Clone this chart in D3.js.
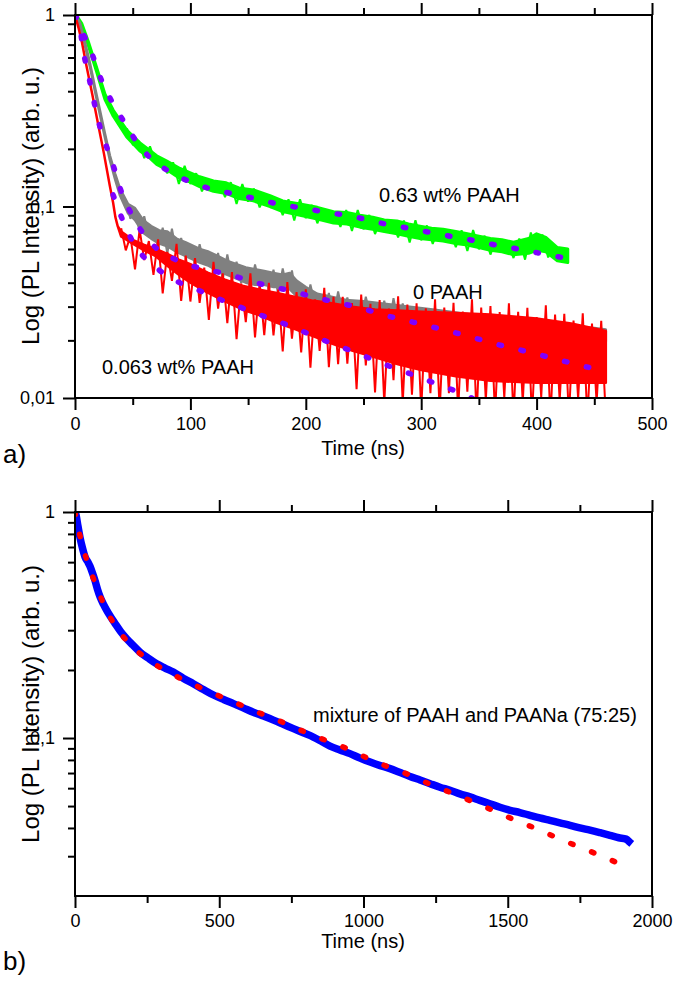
<!DOCTYPE html>
<html>
<head>
<meta charset="utf-8">
<script src="https://cdn.jsdelivr.net/npm/d3@7"></script>
<style>
  body { margin: 0; background: #fff; }
  svg { display: block; }
  text { font-family: "Liberation Sans", Arial, sans-serif; fill: #000; }
</style>
</head>
<body>
<svg id="chart" width="675" height="991"></svg>
<script>
// ---- panel a: tick values
var xTicksA = [0, 100, 200, 300, 400, 500];
var xMinorA = [50, 150, 250, 350, 450];
var yTicksA = [1, 0.1, 0.01];
var yMinorA = [0.02, 0.03, 0.04, 0.05, 0.06, 0.07, 0.08, 0.09, 0.2, 0.3, 0.4, 0.5, 0.6, 0.7, 0.8, 0.9];

// ---- panel b: tick values
var xTicksB = [0, 500, 1000, 1500, 2000];
var xMinorB = [250, 750, 1250, 1750];
var yTicksB = [1, 0.1];
var yMinorB = [0.03, 0.04, 0.05, 0.06, 0.07, 0.08, 0.09, 0.2, 0.3, 0.4, 0.5, 0.6, 0.7, 0.8, 0.9];

// ---- 0.63 wt% PAAH (green): band + noise trace
var greenT  = [0, 1, 5.8, 11.5, 18.8, 26, 33.2, 44.8, 56.3, 64, 70.8, 80, 91, 100, 108, 120, 131, 142, 154.5, 169, 180, 195, 210, 224, 235.5, 247, 258, 268, 279, 289, 299, 309, 319, 330, 340, 350, 360, 370, 380, 393, 400, 408, 418, 427];
var greenLo = [1, 0.99, 0.87, 0.695, 0.503, 0.362, 0.296, 0.231, 0.195, 0.181, 0.166, 0.155, 0.140, 0.134, 0.127, 0.120, 0.117, 0.110, 0.107, 0.100, 0.094, 0.090, 0.086, 0.082, 0.081, 0.078, 0.076, 0.074, 0.072, 0.070, 0.068, 0.067, 0.066, 0.064, 0.063, 0.061, 0.059, 0.058, 0.056, 0.057, 0.059, 0.058, 0.052, 0.051];
var greenHi = [1, 1, 0.905, 0.727, 0.53, 0.386, 0.318, 0.251, 0.215, 0.198, 0.184, 0.172, 0.158, 0.150, 0.143, 0.136, 0.133, 0.125, 0.122, 0.114, 0.107, 0.103, 0.099, 0.094, 0.093, 0.090, 0.088, 0.085, 0.084, 0.081, 0.079, 0.077, 0.076, 0.074, 0.072, 0.070, 0.068, 0.067, 0.065, 0.068, 0.072, 0.069, 0.061, 0.060];
var greenNoiseT = [45, 50, 55, 60, 65, 70, 75, 80, 85, 90, 95, 100, 105, 110, 115, 120, 125, 130, 135, 140, 145, 150, 155, 160, 165, 170, 175, 180, 185, 190, 195, 200, 205, 210, 215, 220, 225, 230, 235, 240, 245, 250, 255, 260, 265, 270, 275, 280, 285, 290, 295, 300, 305, 310, 315, 320, 325, 330, 335, 340, 345, 350, 355, 360, 365, 370, 375, 380, 385, 390, 395, 400, 405, 410, 415, 420, 425];
var greenNoise = [0.256, 0.211, 0.218, 0.179, 0.206, 0.168, 0.176, 0.149, 0.170, 0.131, 0.163, 0.131, 0.149, 0.120, 0.139, 0.120, 0.134, 0.112, 0.134, 0.103, 0.131, 0.106, 0.124, 0.099, 0.116, 0.0995, 0.109, 0.090, 0.109, 0.0846, 0.109, 0.0869, 0.102, 0.0817, 0.0975, 0.083, 0.093, 0.0782, 0.0958, 0.0744, 0.0959, 0.076, 0.0903, 0.0718, 0.086, 0.0736, 0.0837, 0.0689, 0.0845, 0.0649, 0.0848, 0.0666, 0.0796, 0.0637, 0.0765, 0.0658, 0.0743, 0.0614, 0.0752, 0.0586, 0.0753, 0.0598, 0.0704, 0.0561, 0.0675, 0.058, 0.0653, 0.0538, 0.068, 0.0528, 0.0731, 0.0578, 0.0714, 0.0542, 0.063, 0.052, 0.0594];

// ---- 0 PAAH (gray): band + noise trace
var grayT  = [0, 4.3, 8.7, 13, 17.3, 21.7, 26, 30.3, 34.7, 39, 46, 52, 59, 66, 73, 80, 88, 96, 108, 116, 124, 132, 140, 148, 156, 164, 172, 180, 186, 192, 200, 210, 220, 235, 250, 270, 290, 310, 330, 350, 370, 390, 410, 430, 450, 460];
var grayLo = [1, 0.88, 0.69, 0.535, 0.40, 0.30, 0.228, 0.174, 0.139, 0.114, 0.092, 0.085, 0.073, 0.068, 0.064, 0.062, 0.058, 0.055, 0.051, 0.049, 0.046, 0.044, 0.042, 0.040, 0.039, 0.039, 0.038, 0.038, 0.037, 0.034, 0.032, 0.030, 0.029, 0.028, 0.027, 0.026, 0.025, 0.024, 0.0238, 0.0232, 0.0226, 0.022, 0.0213, 0.0206, 0.020, 0.0197];
var grayHi = [1, 0.91, 0.72, 0.56, 0.42, 0.316, 0.24, 0.184, 0.149, 0.124, 0.103, 0.098, 0.085, 0.079, 0.075, 0.074, 0.068, 0.065, 0.060, 0.058, 0.055, 0.052, 0.050, 0.048, 0.047, 0.046, 0.045, 0.044, 0.045, 0.041, 0.038, 0.035, 0.034, 0.0325, 0.032, 0.031, 0.030, 0.029, 0.028, 0.027, 0.0262, 0.0254, 0.0246, 0.0238, 0.0232, 0.0228];
var grayNoiseT = [44, 48, 52, 56, 60, 64, 68, 72, 76, 80, 84, 88, 92, 96, 100, 104, 108, 112, 116, 120, 124, 128, 132, 136, 140, 144, 148, 152, 156, 160, 164, 168, 172, 176, 180, 184, 188, 192, 196, 200, 204, 208, 212, 216, 220, 224, 228, 232, 236, 240, 244, 248, 252, 256, 260, 264, 268, 272, 276, 280, 284, 288, 292];
var grayNoise = [0.108, 0.0863, 0.098, 0.0733, 0.089, 0.0695, 0.0772, 0.0613, 0.0775, 0.057, 0.0767, 0.0568, 0.0685, 0.0534, 0.0635, 0.0494, 0.0636, 0.050, 0.0574, 0.0451, 0.0572, 0.0414, 0.0562, 0.0421, 0.0515, 0.0398, 0.048, 0.0371, 0.0498, 0.039, 0.0455, 0.0366, 0.0468, 0.035, 0.0475, 0.0368, 0.0464, 0.033, 0.0395, 0.0301, 0.0392, 0.0305, 0.0345, 0.0279, 0.0354, 0.0264, 0.036, 0.0276, 0.0335, 0.0269, 0.0322, 0.0256, 0.0338, 0.0267, 0.0312, 0.025, 0.0322, 0.0238, 0.0332, 0.025, 0.0312, 0.0243, 0.030];

// ---- 0.063 wt% PAAH (red): core band + noise trace
var redT  = [0, 3, 6, 10, 15, 20, 25, 30, 33, 35, 37, 40, 50, 60, 70, 80, 90, 100, 115, 130, 145, 160, 175, 190, 205, 220, 240, 260, 280, 300, 330, 360, 400, 430, 460];
var redHi = [1, 0.86, 0.72, 0.54, 0.385, 0.27, 0.19, 0.13, 0.105, 0.088, 0.079, 0.074, 0.067, 0.063, 0.060, 0.0565, 0.0528, 0.050, 0.0452, 0.0415, 0.0386, 0.0368, 0.0354, 0.0338, 0.0323, 0.0314, 0.030, 0.029, 0.0286, 0.0282, 0.0278, 0.0273, 0.026, 0.0245, 0.0224];
var redLo = [1, 0.86, 0.72, 0.54, 0.385, 0.27, 0.19, 0.13, 0.105, 0.088, 0.079, 0.0697, 0.064, 0.059, 0.055, 0.049, 0.044, 0.040, 0.0355, 0.032, 0.029, 0.027, 0.0247, 0.023, 0.0212, 0.0195, 0.0177, 0.0163, 0.015, 0.014, 0.013, 0.0123, 0.012, 0.012, 0.012];
var redNoiseT = [40, 44, 48, 52, 56, 60, 64, 68, 72, 76, 80, 84, 88, 92, 96, 100, 104, 108, 112, 116, 120, 124, 128, 132, 136, 140, 144, 148, 152, 156, 160, 164, 168, 172, 176, 180, 184, 188, 192, 196, 200, 204, 208, 212, 216, 220, 224, 228, 232, 236, 240, 244, 248, 252, 256, 260, 264, 268, 272, 276, 280, 284, 288, 292, 296, 300, 304, 308, 312, 316, 320, 324, 328, 332, 336, 340, 344, 348, 352, 356, 360, 364, 368, 372, 376, 380, 384, 388, 392, 396, 400, 404, 408, 412, 416, 420, 424, 428, 432, 436, 440, 444, 448, 452, 456, 460];
var redNoise = [0.077, 0.059, 0.070, 0.047, 0.0757, 0.0525, 0.066, 0.0439, 0.0673, 0.0352, 0.0579, 0.0409, 0.0638, 0.0321, 0.0554, 0.0319, 0.0538, 0.0314, 0.048, 0.0256, 0.0514, 0.0293, 0.0448, 0.0246, 0.0454, 0.0203, 0.0396, 0.0249, 0.0448, 0.0207, 0.0399, 0.0213, 0.0399, 0.0212, 0.0368, 0.0175, 0.0403, 0.0204, 0.0357, 0.0173, 0.0369, 0.0144, 0.0327, 0.0176, 0.0376, 0.0145, 0.0338, 0.015, 0.0338, 0.0151, 0.0313, 0.0111, 0.0347, 0.0148, 0.031, 0.0107, 0.0325, 0.0094, 0.0293, 0.0124, 0.034, 0.0094, 0.0308, 0.0104, 0.0312, 0.0086, 0.0294, 0.0106, 0.0328, 0.0085, 0.0297, 0.0106, 0.0314, 0.0085, 0.0283, 0.0108, 0.0328, 0.008, 0.0297, 0.0097, 0.0302, 0.0081, 0.0281, 0.010, 0.0312, 0.0078, 0.0282, 0.0095, 0.0296, 0.0079, 0.0265, 0.0101, 0.0305, 0.0077, 0.0273, 0.0097, 0.0275, 0.0079, 0.0254, 0.0099, 0.0277, 0.0077, 0.0245, 0.0095, 0.0253, 0.0079];

// ---- fits, panel a (dotted violet)
var fitGreenT = [0, 4.3, 14.5, 21.7, 30.3, 40.4, 50.5, 62, 79.5, 98, 118.5, 138.6, 158.6, 179, 198, 219, 240, 259, 279, 299, 319, 339, 360, 380, 400, 422];
var fitGreenI = [1, 0.87, 0.633, 0.476, 0.369, 0.29, 0.231, 0.188, 0.155, 0.136, 0.123, 0.116, 0.109, 0.102, 0.098, 0.093, 0.089, 0.0834, 0.079, 0.075, 0.071, 0.0676, 0.0637, 0.0606, 0.0574, 0.0542];
var fitGrayT = [0, 4.3, 7, 11.3, 15.6, 20, 26, 33, 39, 46, 56, 69, 88, 108, 127, 147, 167, 186, 206, 227, 247, 267, 287, 306, 326, 346, 365, 386, 406, 425, 448];
var fitGrayI = [1, 0.855, 0.657, 0.498, 0.373, 0.283, 0.217, 0.165, 0.125, 0.099, 0.077, 0.0617, 0.0525, 0.0477, 0.045, 0.0418, 0.0385, 0.0364, 0.0338, 0.0315, 0.0296, 0.0272, 0.0254, 0.0238, 0.0222, 0.0206, 0.0191, 0.0178, 0.0166, 0.0155, 0.0143];
var fitRedT = [33, 39, 46, 56, 72, 89, 108, 127, 147, 166, 186, 205, 224, 243, 261, 280, 299, 319, 338, 345];
var fitRedI = [0.115, 0.092, 0.073, 0.058, 0.047, 0.0405, 0.0363, 0.0325, 0.0292, 0.0264, 0.0238, 0.0213, 0.0191, 0.0173, 0.0156, 0.0141, 0.0128, 0.0115, 0.0104, 0.0099];

// ---- panel b: mixture of PAAH and PAANa (blue) and its fit (dotted red)
var blueT = [0, 3.5, 10, 17, 25, 35, 45, 52, 60, 69, 78, 87, 98, 110, 124, 139, 158, 179, 200, 225, 253, 283, 312, 341, 375, 410, 445, 480, 515, 549, 583, 618, 653, 688, 722, 757, 791, 826, 855, 884, 918, 953, 988, 1023, 1058, 1092, 1127, 1161, 1196, 1231, 1265, 1300, 1334, 1369, 1403, 1438, 1473, 1508, 1542, 1577, 1611, 1646, 1681, 1716, 1750, 1785, 1820, 1854, 1885, 1910, 1924, 1930];
var blueI = [1, 0.97, 0.87, 0.776, 0.70, 0.632, 0.60, 0.575, 0.54, 0.499, 0.455, 0.421, 0.392, 0.367, 0.343, 0.321, 0.296, 0.275, 0.258, 0.240, 0.226, 0.213, 0.204, 0.196, 0.184, 0.174, 0.164, 0.155, 0.148, 0.142, 0.136, 0.130, 0.125, 0.120, 0.115, 0.110, 0.1055, 0.101, 0.0965, 0.092, 0.0885, 0.0853, 0.0815, 0.0783, 0.0755, 0.0732, 0.0703, 0.0676, 0.0652, 0.0628, 0.0606, 0.0587, 0.0566, 0.0549, 0.053, 0.0512, 0.0494, 0.0479, 0.0468, 0.0455, 0.0443, 0.0432, 0.0421, 0.0411, 0.040, 0.0391, 0.0381, 0.0371, 0.0362, 0.0357, 0.0345, 0.034];
var fitBlueT = [0, 21, 44, 73, 104, 142, 191, 258, 329, 404, 477, 552, 627, 702, 777, 853, 930, 1005, 1080, 1155, 1231, 1306, 1381, 1456, 1531, 1608, 1683, 1758, 1834, 1910];
var fitBlueI = [1, 0.75, 0.595, 0.474, 0.38, 0.31, 0.26, 0.22, 0.194, 0.174, 0.158, 0.144, 0.131, 0.12, 0.109, 0.0995, 0.0912, 0.0824, 0.075, 0.069, 0.0624, 0.0571, 0.0521, 0.0474, 0.043, 0.0393, 0.0356, 0.0326, 0.0297, 0.027];

var svg = d3.select("#chart");
var FONT = '"Liberation Sans", Arial, sans-serif';

function rows(t, a, b) {
  return t.map(function(v, i) { return { t: v, a: a[i], b: b ? b[i] : a[i] }; });
}

// frame, ticks and tick labels of one panel
function drawAxes(x, y, xMaj, xMin, yMaj, yMin, labelPad) {
  var x0 = x.range()[0], x1 = x.range()[1];
  var yb = y.range()[0], yt = y.range()[1];
  var g = svg.append("g").attr("font-family", FONT);

  function style(sel) {
    sel.select(".domain").remove();
    sel.selectAll("line").attr("stroke", "#000").attr("stroke-width", 2);
    sel.selectAll("text").attr("font-size", 18).attr("font-family", FONT);
  }

  g.append("g").attr("transform", "translate(0," + yb + ")")
    .call(d3.axisBottom(x).tickValues(xMaj).tickSize(12).tickPadding(labelPad).tickFormat(d3.format("d")))
    .call(style);
  g.append("g").attr("transform", "translate(0," + yb + ")")
    .call(d3.axisBottom(x).tickValues(xMin).tickSize(7).tickFormat(""))
    .call(style);
  g.append("g").attr("transform", "translate(0," + yt + ")")
    .call(d3.axisTop(x).tickValues(xMaj).tickSize(12).tickFormat(""))
    .call(style);
  g.append("g").attr("transform", "translate(0," + yt + ")")
    .call(d3.axisTop(x).tickValues(xMin).tickSize(7).tickFormat(""))
    .call(style);
  g.append("g").attr("transform", "translate(" + x0 + ",0)")
    .call(d3.axisLeft(y).tickValues(yMaj).tickSize(12).tickPadding(8)
      .tickFormat(function(d) { return String(d).replace(".", ","); }))
    .call(style);
  g.append("g").attr("transform", "translate(" + x0 + ",0)")
    .call(d3.axisLeft(y).tickValues(yMin).tickSize(7).tickFormat(""))
    .call(style);

  g.append("rect")
    .attr("x", x0).attr("y", yt)
    .attr("width", x1 - x0).attr("height", yb - yt)
    .attr("fill", "none").attr("stroke", "#000").attr("stroke-width", 2);
}

function clipFor(id, x, y) {
  svg.append("clipPath").attr("id", id).append("rect")
    .attr("x", x.range()[0]).attr("y", y.range()[1])
    .attr("width", x.range()[1] - x.range()[0])
    .attr("height", y.range()[0] - y.range()[1]);
}

function band(g, x, y, t, lo, hi, color, sw) {
  var area = d3.area()
    .x(function(d) { return x(d.t); })
    .y0(function(d) { return y(d.a); })
    .y1(function(d) { return y(d.b); });
  g.append("path")
    .datum(rows(t, lo, hi))
    .attr("d", area)
    .attr("fill", color)
    .attr("stroke", color)
    .attr("stroke-width", sw)
    .attr("stroke-linejoin", "round");
}

function noise(g, x, y, t, v, color, sw) {
  var line = d3.line()
    .x(function(d) { return x(d.t); })
    .y(function(d) { return y(d.a); });
  g.append("path")
    .datum(rows(t, v))
    .attr("d", line)
    .attr("fill", "none")
    .attr("stroke", color)
    .attr("stroke-width", sw)
    .attr("stroke-linejoin", "miter")
    .attr("stroke-miterlimit", 2);
}

function dotted(g, x, y, t, v, color) {
  var line = d3.line()
    .curve(d3.curveMonotoneX)
    .x(function(d) { return x(d.t); })
    .y(function(d) { return y(d.a); });
  g.append("path")
    .datum(rows(t, v))
    .attr("d", line)
    .attr("fill", "none")
    .attr("stroke", color)
    .attr("stroke-width", 5.5)
    .attr("stroke-linecap", "round")
    .attr("stroke-dasharray", "2.5,20");
}

// ---------------- panel a
var xA = d3.scaleLinear().domain([0, 500]).range([75, 652]);
var yA = d3.scaleLog().domain([0.01, 1]).range([398, 15]);
clipFor("clipA", xA, yA);
var gA = svg.append("g").attr("clip-path", "url(#clipA)");

band(gA, xA, yA, greenT, greenLo, greenHi, "#00ff00", 3);
noise(gA, xA, yA, greenNoiseT, greenNoise, "#00ff00", 2);
band(gA, xA, yA, grayT, grayLo, grayHi, "#808080", 2.5);
noise(gA, xA, yA, grayNoiseT, grayNoise, "#808080", 2);
band(gA, xA, yA, redT, redLo, redHi, "#ff0000", 2.5);
noise(gA, xA, yA, redNoiseT, redNoise, "#ff0000", 2);

var VIOLET = "#7f00ff";
dotted(gA, xA, yA, fitGreenT, fitGreenI, VIOLET);
dotted(gA, xA, yA, fitGrayT, fitGrayI, VIOLET);
dotted(gA, xA, yA, fitRedT, fitRedI, VIOLET);

drawAxes(xA, yA, xTicksA, xMinorA, yTicksA, yMinorA, 7);

svg.append("text").attr("x", 379).attr("y", 202).attr("font-size", 20).text("0.63 wt% PAAH");
svg.append("text").attr("x", 413).attr("y", 299).attr("font-size", 20).text("0 PAAH");
svg.append("text").attr("x", 102).attr("y", 374).attr("font-size", 20).text("0.063 wt% PAAH");

svg.append("text").attr("x", 363).attr("y", 455).attr("font-size", 20)
  .attr("text-anchor", "middle").text("Time (ns)");
svg.append("text").attr("transform", "translate(39,206) rotate(-90)")
  .attr("font-size", 24).attr("text-anchor", "middle").text("Log (PL Intensity) (arb. u.)");
svg.append("text").attr("x", 3).attr("y", 463).attr("font-size", 26).text("a)");

// ---------------- panel b
var xB = d3.scaleLinear().domain([0, 2000]).range([75, 652]);
var yB = d3.scaleLog().domain([0.02, 1]).range([896, 512]);
clipFor("clipB", xB, yB);
var gB = svg.append("g").attr("clip-path", "url(#clipB)");

gB.append("path")
  .datum(rows(blueT, blueI))
  .attr("d", d3.line().curve(d3.curveMonotoneX)
    .x(function(d) { return xB(d.t); })
    .y(function(d) { return yB(d.a); }))
  .attr("fill", "none")
  .attr("stroke", "#0000ff")
  .attr("stroke-width", 7.5)
  .attr("stroke-linejoin", "round");

dotted(gB, xB, yB, fitBlueT, fitBlueI, "#ff0000");

drawAxes(xB, yB, xTicksB, xMinorB, yTicksB, yMinorB, 6);

svg.append("text").attr("x", 313).attr("y", 722).attr("font-size", 20)
  .text("mixture of PAAH and PAANa (75:25)");
svg.append("text").attr("x", 363).attr("y", 948).attr("font-size", 20)
  .attr("text-anchor", "middle").text("Time (ns)");
svg.append("text").attr("transform", "translate(39,704) rotate(-90)")
  .attr("font-size", 24).attr("text-anchor", "middle").text("Log (PL Intensity) (arb. u.)");
svg.append("text").attr("x", 3).attr("y", 970).attr("font-size", 26).text("b)");
</script>
</body>
</html>
